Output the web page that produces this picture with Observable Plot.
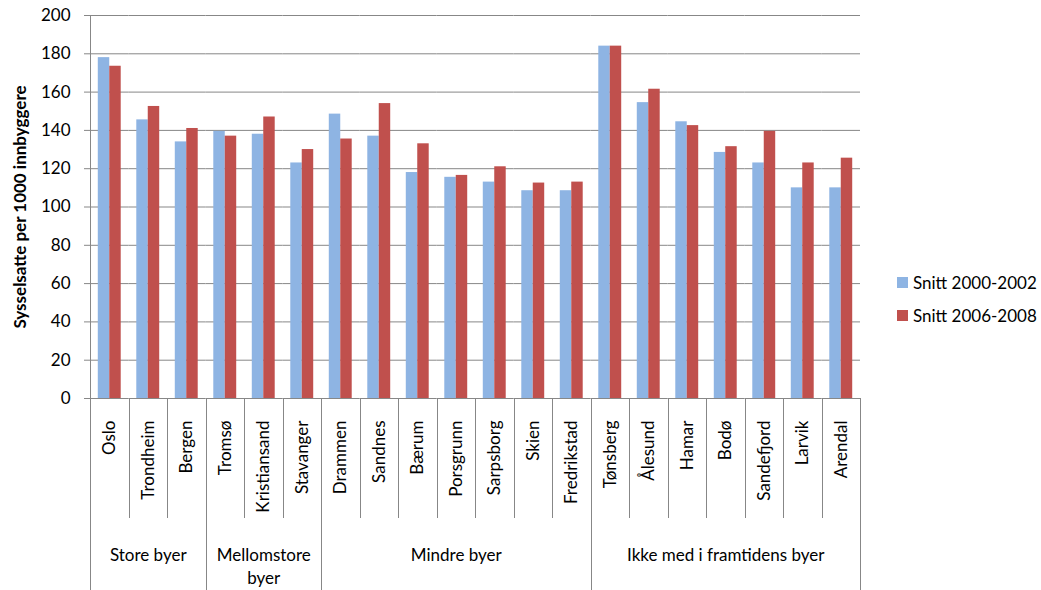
<!DOCTYPE html>
<html>
<head>
<meta charset="utf-8">
<script src="https://cdn.jsdelivr.net/npm/d3@7"></script>
<script src="https://cdn.jsdelivr.net/npm/@observablehq/plot@0.6"></script>
<style>
  body { margin: 0; background: #fff; font-family: Lato, sans-serif; }
  #wrap { position: relative; width: 1041px; height: 590px; }
  #legend { position: absolute; left: 897px; top: 271px; font-size: 17px; color: #000; }
  .item { display: flex; align-items: center; height: 22px; margin-bottom: 11px; }
  .sw { width: 11px; height: 11px; margin-right: 5px; }
</style>
</head>
<body>
<div id="wrap"><div id="chart"></div><div id="legend"></div></div>
<script>
const cities = ['Oslo', 'Trondheim', 'Bergen', 'Tromsø', 'Kristiansand', 'Stavanger',
  'Drammen', 'Sandnes', 'Bærum', 'Porsgrunn', 'Sarpsborg', 'Skien', 'Fredrikstad',
  'Tønsberg', 'Ålesund', 'Hamar', 'Bodø', 'Sandefjord', 'Larvik', 'Arendal']
const snitt2000 = [178, 145.5, 134, 139.5, 138, 123, 148.5, 137, 118, 115.5, 113, 108.5, 108.5,
  184, 154.5, 144.5, 128.5, 123, 110, 110]
const snitt2006 = [173.5, 152.5, 141, 137, 147, 130, 135.5, 154, 133, 116.5, 121, 112.5, 113,
  184, 161.5, 142.5, 131.5, 139.5, 123, 125.5]
const series = ['Snitt 2000-2002', 'Snitt 2006-2008']
const colors = ['#8EB4E3', '#C0504D']
const groups = ['Store byer', 'Mellomstore\nbyer', 'Mindre byer', 'Ikke med i framtidens byer']
const groupStart = ['Oslo', 'Tromsø', 'Drammen', 'Tønsberg']
const groupMid = ['Trondheim', 'Kristiansand', 'Porsgrunn', 'Bodø']
const yTicks = d3.range(0, 201, 20)

const data = cities.flatMap((c, i) => [
  {city: c, serie: series[0], value: snitt2000[i]},
  {city: c, serie: series[1], value: snitt2006[i]}
])

const lineColor = '#878787'

const chart = Plot.plot({
  width: 880,
  height: 590,
  marginTop: 15,
  marginLeft: 90,
  marginRight: 20,
  marginBottom: 192,
  style: {fontFamily: 'Lato', fontSize: '17px', color: '#000', background: 'white'},
  fx: {domain: cities, padding: 0, round: false},
  x: {domain: series, paddingInner: 0, paddingOuter: 0.68, round: false, axis: null},
  y: {domain: [0, 200]},
  color: {domain: series, range: colors},
  marks: [
    Plot.gridY(yTicks, {stroke: lineColor, strokeOpacity: 1}),
    Plot.barY(data, {fx: 'city', x: 'serie', y: 'value', fill: 'serie'}),
    Plot.axisY(yTicks, {
      tickSize: 6, tickPadding: 14, stroke: lineColor,
      label: 'Sysselsatte per 1000 innbyggere', labelAnchor: 'center', labelOffset: 77, labelArrow: 'none'
    }),
    Plot.axisFx({anchor: 'bottom', tickRotate: -90, tickSize: 0, tickPadding: 22, label: null}),
    Plot.text(groups, {fx: groupMid, frameAnchor: 'bottom', lineAnchor: 'top', lineHeight: 1.35, dy: 146, text: d => d})
  ]
})

const svg = d3.select(chart)
svg.selectAll('[aria-label="y-axis label"] text').style('font-weight', 'bold')

// divider lines under the category axis
const fx = chart.scale('fx')
const y = chart.scale('y')
const y0 = y.apply(0)
const g = svg.append('g').attr('stroke', lineColor).attr('stroke-width', 1)
cities.forEach(c => {
  const x = Math.round(fx.apply(c)) + 0.5
  const top = c === cities[0] ? y.apply(200) : y0
  g.append('line').attr('x1', x).attr('x2', x).attr('y1', top)
    .attr('y2', groupStart.includes(c) ? 590 : 518)
})
const xEnd = Math.round(fx.apply(cities[cities.length - 1]) + fx.bandwidth) + 0.5
g.append('line').attr('x1', xEnd).attr('x2', xEnd).attr('y1', y0).attr('y2', 590)

d3.select('#chart').append(() => chart)

const legend = d3.select('#legend')
series.forEach((s, i) => {
  const item = legend.append('div').attr('class', 'item')
  item.append('div').attr('class', 'sw').style('background', colors[i])
  item.append('span').text(s)
})
</script>
</body>
</html>
